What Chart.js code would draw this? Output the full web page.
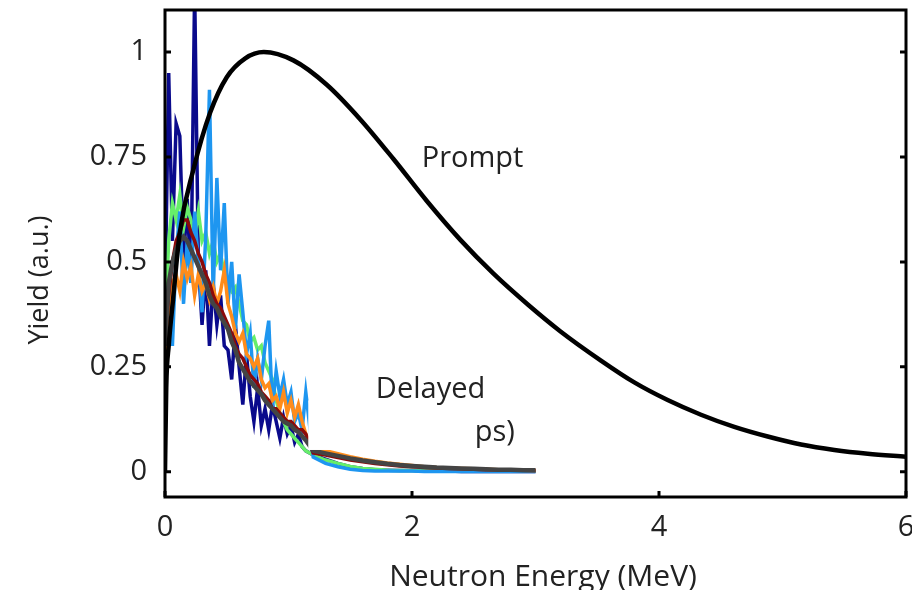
<!DOCTYPE html>
<html lang="en">
<head>
<meta charset="UTF-8">
<title>Prompt and delayed neutron spectra</title>
<script src="https://cdn.jsdelivr.net/npm/chart.js"></script>
<style>
  html, body { margin: 0; padding: 0; background: #fff; }
  #wrap { width: 912px; height: 590px; }
</style>
</head>
<body>
<div id="wrap"><canvas id="myChart" width="912" height="590"></canvas></div>
<script>
// prompt spectrum
const promptE = [0, 0.01, 0.03, 0.065, 0.12, 0.23, 0.365, 0.5, 0.65, 0.8, 1.04, 1.31, 1.58, 1.85, 2.12, 2.39, 2.66, 2.94, 3.2, 3.53, 3.8, 4.07, 4.34, 4.61, 4.88, 5.15, 5.42, 5.69, 6.0];
const promptY = [0, 0.2, 0.3, 0.41, 0.57, 0.72, 0.855, 0.94, 0.985, 1.0, 0.98, 0.922, 0.84, 0.745, 0.645, 0.553, 0.472, 0.398, 0.335, 0.265, 0.213, 0.171, 0.136, 0.107, 0.084, 0.065, 0.052, 0.043, 0.036];

// delayed spectra: energies shared by all groups
const delayedE = [0, 0.03, 0.06, 0.09, 0.12, 0.15, 0.18, 0.21, 0.24, 0.27, 0.30, 0.33, 0.36, 0.39, 0.42, 0.45, 0.48, 0.51, 0.54, 0.57,
  0.60, 0.63, 0.66, 0.69, 0.72, 0.75, 0.78, 0.81, 0.84, 0.87, 0.90, 0.93, 0.96, 0.99, 1.02, 1.05, 1.08, 1.11, 1.14,
  1.2, 1.3, 1.4, 1.5, 1.6, 1.7, 1.8, 1.9, 2.0, 2.1, 2.2, 2.3, 2.4, 2.5, 2.6, 2.7, 2.8, 2.9, 3.0];

const navyY = [0.40, 0.95, 0.55, 0.83, 0.80, 0.50, 0.65, 0.45, 1.15, 0.50, 0.35, 0.48, 0.30, 0.45, 0.35, 0.42, 0.30, 0.29, 0.22, 0.35,
  0.25, 0.16, 0.28, 0.18, 0.12, 0.20, 0.11, 0.15, 0.10, 0.16, 0.12, 0.08, 0.13, 0.09, 0.11, 0.07, 0.09, 0.06, 0.05,
  0.04, 0.03, 0.02, 0.012, 0.008, 0.005, 0.004, 0.003, 0.003, 0.002, 0.002, 0.002, 0.001, 0.001, 0.001, 0.001, 0.001, 0.001, 0.001];
const blueY = [0.30, 0.45, 0.30, 0.52, 0.62, 0.40, 0.55, 0.45, 0.62, 0.50, 0.38, 0.56, 0.91, 0.42, 0.70, 0.48, 0.64, 0.40, 0.50, 0.34,
  0.47, 0.38, 0.28, 0.33, 0.20, 0.27, 0.22, 0.30, 0.36, 0.15, 0.24, 0.18, 0.22, 0.16, 0.19, 0.12, 0.14, 0.10, 0.19,
  0.035, 0.02, 0.012, 0.006, 0.003, 0.002, 0.002, 0.002, 0.002, 0.001, 0.001, 0.001, 0.001, 0.001, 0.001, 0.001, 0.001, 0.001, 0.001];
const greenY = [0.35, 0.55, 0.64, 0.60, 0.66, 0.58, 0.63, 0.60, 0.56, 0.62, 0.55, 0.57, 0.52, 0.55, 0.50, 0.52, 0.47, 0.45, 0.43, 0.44,
  0.40, 0.36, 0.35, 0.31, 0.32, 0.29, 0.30, 0.26, 0.24, 0.22, 0.17, 0.14, 0.12, 0.10, 0.09, 0.08, 0.07, 0.06, 0.05,
  0.04, 0.028, 0.02, 0.013, 0.008, 0.006, 0.004, 0.003, 0.003, 0.002, 0.002, 0.002, 0.002, 0.002, 0.002, 0.002, 0.002, 0.002, 0.002];
const orangeY = [0.25, 0.36, 0.45, 0.47, 0.43, 0.50, 0.46, 0.49, 0.42, 0.47, 0.43, 0.45, 0.41, 0.44, 0.40, 0.43, 0.48, 0.40, 0.37, 0.33,
  0.31, 0.33, 0.28, 0.27, 0.25, 0.27, 0.22, 0.20, 0.21, 0.17, 0.18, 0.15, 0.19, 0.14, 0.17, 0.13, 0.16, 0.12, 0.09,
  0.055, 0.05, 0.043, 0.036, 0.03, 0.025, 0.021, 0.018, 0.015, 0.012, 0.01, 0.009, 0.008, 0.007, 0.006, 0.005, 0.005, 0.004, 0.003];
const redY = [0.30, 0.42, 0.50, 0.55, 0.57, 0.60, 0.60, 0.57, 0.55, 0.52, 0.50, 0.47, 0.45, 0.42, 0.40, 0.39, 0.37, 0.35, 0.33, 0.30,
  0.28, 0.27, 0.25, 0.23, 0.22, 0.21, 0.19, 0.18, 0.17, 0.15, 0.15, 0.14, 0.13, 0.12, 0.12, 0.11, 0.10, 0.10, 0.09,
  0.045, 0.04, 0.034, 0.028, 0.024, 0.02, 0.017, 0.014, 0.012, 0.01, 0.009, 0.008, 0.007, 0.006, 0.005, 0.005, 0.004, 0.004, 0.003];
const grayY = [0.30, 0.45, 0.50, 0.53, 0.55, 0.56, 0.55, 0.53, 0.51, 0.49, 0.47, 0.45, 0.42, 0.40, 0.39, 0.37, 0.355, 0.34, 0.31, 0.29,
  0.26, 0.245, 0.23, 0.215, 0.205, 0.195, 0.185, 0.17, 0.16, 0.15, 0.14, 0.13, 0.12, 0.115, 0.11, 0.10, 0.095, 0.085, 0.075,
  0.05, 0.044, 0.038, 0.032, 0.027, 0.023, 0.019, 0.016, 0.014, 0.012, 0.01, 0.009, 0.008, 0.007, 0.006, 0.005, 0.005, 0.004, 0.004];

const xTicks = [0, 2, 4, 6];
const yTicks = [0, 0.25, 0.5, 0.75, 1];
const yTickLabels = ["0", "0.25", "0.5", "0.75", "1"];

function pts(xs, ys) {
  return xs.map((x, i) => ({ x: x, y: ys[i] }));
}

const FONT = "'Open Sans', sans-serif";
const TXT = "#222";

function delayed(label, ys, color, width, order) {
  return {
    label: label,
    data: pts(delayedE, ys),
    borderColor: color,
    borderWidth: width,
    pointRadius: 0,
    tension: 0,
    order: order
  };
}

const decor = {
  id: 'decor',
  afterDatasetsDraw(chart) {
    const { ctx, chartArea: a, scales: { x, y } } = chart;
    ctx.save();
    // white patch over the delayed curves (as in the original figure)
    ctx.fillStyle = '#fff';
    const bx0 = x.getPixelForValue(1.16), bx1 = x.getPixelForValue(2.5);
    const by0 = y.getPixelForValue(0.17), by1 = y.getPixelForValue(0.052);
    ctx.fillRect(bx0, by0, bx1 - bx0, by1 - by0);

    // frame
    ctx.strokeStyle = '#000';
    ctx.lineWidth = 3;
    ctx.strokeRect(a.left, a.top, a.right - a.left, a.bottom - a.top);

    // inward ticks
    ctx.beginPath();
    yTicks.forEach(v => {
      const py = y.getPixelForValue(v);
      ctx.moveTo(a.left, py); ctx.lineTo(a.left + 6, py);
      ctx.moveTo(a.right, py); ctx.lineTo(a.right - 6, py);
    });
    xTicks.forEach(v => {
      const px = x.getPixelForValue(v);
      ctx.moveTo(px, a.bottom); ctx.lineTo(px, a.bottom - 6);
    });
    ctx.stroke();

    // labels
    ctx.fillStyle = TXT;
    ctx.font = "29px " + FONT;
    ctx.textAlign = 'center';
    ctx.textBaseline = 'middle';
    ctx.fillText('Prompt', x.getPixelForValue(2.49), y.getPixelForValue(0.745));
    ctx.fillText('Delayed', x.getPixelForValue(2.15), y.getPixelForValue(0.195));
    ctx.fillText('ps)', x.getPixelForValue(2.67), y.getPixelForValue(0.092));

    // axis titles
    ctx.font = "30px " + FONT;
    ctx.fillText('Neutron Energy (MeV)', 543, 577);
    ctx.translate(40, 280);
    ctx.rotate(-Math.PI / 2);
    ctx.font = "27px " + FONT;
    ctx.fillText('Yield (a.u.)', 0, 0);
    ctx.restore();
  }
};

const ctx = document.getElementById("myChart").getContext("2d");
new Chart(ctx, {
  type: "line",
  data: {
    datasets: [
      {
        label: 'Prompt',
        data: pts(promptE, promptY),
        borderColor: '#000',
        borderWidth: 4.5,
        pointRadius: 0,
        cubicInterpolationMode: 'monotone',
        order: 0
      },
      delayed('Mean', grayY, '#444444', 4.5, 1),
      delayed('Group 6', redY, '#8b0a0a', 3.5, 2),
      delayed('Group 5', orangeY, '#ff8c1a', 3.5, 3),
      delayed('Group 4', blueY, '#1e96f0', 3.5, 4),
      delayed('Group 3', greenY, '#66ee6a', 3.5, 5),
      delayed('Group 2', navyY, '#0a0a8c', 3.5, 6)
    ]
  },
  options: {
    responsive: false,
    animation: false,
    events: [],
    layout: { padding: { top: 10, right: 6, left: 0, bottom: 0 } },
    plugins: { legend: { display: false }, tooltip: { enabled: false } },
    scales: {
      x: {
        type: 'linear',
        min: 0, max: 6,
        afterBuildTicks: s => { s.ticks = xTicks.map(v => ({ value: v })); },
        afterFit: s => { s.height = 93; s.paddingLeft = 0; s.paddingRight = 0; },
        grid: { display: false, drawTicks: false },
        border: { display: false },
        ticks: { color: TXT, padding: 13, font: { family: FONT, size: 29 }, maxRotation: 0 }
      },
      y: {
        min: -0.06, max: 1.1,
        afterBuildTicks: s => { s.ticks = yTicks.map(v => ({ value: v })); },
        afterFit: s => { s.width = 165; s.paddingTop = 0; s.paddingBottom = 0; },
        grid: { display: false, drawTicks: false },
        border: { display: false },
        ticks: {
          color: TXT, padding: 18, font: { family: FONT, size: 29 },
          callback: v => { const i = yTicks.indexOf(v); return i >= 0 ? yTickLabels[i] : ''; }
        }
      }
    }
  },
  plugins: [decor]
});
</script>
</body>
</html>
